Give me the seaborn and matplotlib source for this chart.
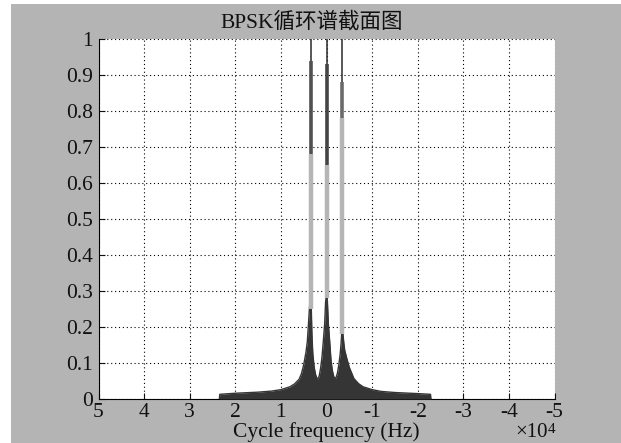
import matplotlib
matplotlib.use("Agg")
import matplotlib.pyplot as plt
import seaborn as sns
import numpy as np
import pandas as pd
from matplotlib.patches import Rectangle

# ---- data (cycle frequency in units of 1e4 Hz, normalized amplitude) ----
alpha_env = [2.35, 2.34, 2.0, 1.5, 1.2, 1.0, 0.8, 0.7, 0.6, 0.55, 0.5, 0.45, 0.42,
             0.40, 0.38, 0.365, 0.35, 0.335, 0.32, 0.30, 0.27, 0.24, 0.21, 0.19,
             0.16, 0.13, 0.10, 0.07, 0.04, 0.02, 0.0, -0.02, -0.04, -0.07, -0.10,
             -0.13, -0.16, -0.19, -0.21, -0.24, -0.27, -0.30, -0.32, -0.335, -0.35,
             -0.365, -0.38, -0.40, -0.44, -0.5, -0.6, -0.7, -0.8, -1.0, -1.2, -1.5,
             -2.0, -2.28, -2.29]
value_env = [0.0, 0.013, 0.016, 0.019, 0.022, 0.026, 0.034, 0.042, 0.055, 0.07, 0.095,
             0.13, 0.16, 0.2, 0.24, 0.27, 0.28, 0.26, 0.18, 0.125, 0.088, 0.068, 0.057,
             0.056, 0.064, 0.085, 0.115, 0.16, 0.21, 0.27, 0.29, 0.27, 0.21, 0.16, 0.105,
             0.078, 0.062, 0.057, 0.06, 0.072, 0.095, 0.125, 0.155, 0.185, 0.19, 0.175, 0.155,
             0.135, 0.115, 0.088, 0.057, 0.043, 0.034, 0.026, 0.021, 0.018, 0.015, 0.013, 0.0]

peak_pos = [0.35, 0.0, -0.35]
light_bottom = [0.25, 0.28, 0.18]
light_top = [0.68, 0.65, 0.78]
mid_top = [0.94, 0.93, 0.88]
peak_top = [1.0, 1.0, 1.0]
mid_colors = ["#505050", "#454545", "#6a6a6a"]

xticks = [5, 4, 3, 2, 1, 0, -1, -2, -3, -4, -5]
yticks = [0, 0.1, 0.2, 0.3, 0.4, 0.5, 0.6, 0.7, 0.8, 0.9, 1]
title = "BPSK循环谱截面图"
xlabel = "Cycle frequency (Hz)"
scale_base = "×10"
scale_exp = "4"

# ---- style ----
sns.set_theme(style="white")
plt.rcParams['font.family'] = ['Liberation Serif', 'Noto Sans CJK SC']

W, H = 621, 443
fig = plt.figure(figsize=(W / 100, H / 100), dpi=100, facecolor="#b4b4b4")
# thin white margins at left and top, as in the reference image
fig.patches.append(Rectangle((0, 0), 11 / W, 1, transform=fig.transFigure,
                             facecolor="white", edgecolor="none", zorder=-10))
fig.patches.append(Rectangle((0, 1 - 4 / H), 1, 4 / H, transform=fig.transFigure,
                             facecolor="white", edgecolor="none", zorder=-10))
ax = fig.add_axes([98.5 / W, (H - 399) / H, (554.5 - 98.5) / W, (399 - 39) / H])
ax.set_facecolor("white")

df = pd.DataFrame({"alpha": alpha_env, "value": value_env})
ax.fill_between(df["alpha"], 0, df["value"], color="#353535", linewidth=0, zorder=3)
sns.lineplot(data=df, x="alpha", y="value", ax=ax, color="#353535", linewidth=1.0,
             sort=False, estimator=None, zorder=3)

ax.vlines(peak_pos, light_bottom, light_top, colors="#b5b5b5", linewidth=3.2, zorder=4)
ax.vlines(peak_pos, light_top, mid_top, colors=mid_colors, linewidth=2.6, zorder=4)
ax.vlines(peak_pos, mid_top, peak_top, colors="#2a2a2a", linewidth=1.1, zorder=4)

ax.set_xlim(5, -5)
ax.set_ylim(0, 1)
ax.set_xticks(xticks)
ax.set_xticklabels([str(t) for t in xticks])
ax.set_yticks(yticks)
ax.set_yticklabels(["0" if t == 0 else ("1" if t == 1 else f"{t:g}") for t in yticks])
ax.grid(True, color="black", linestyle=(0, (1, 2.5)), linewidth=0.8)
for s in ["top", "right"]:
    ax.spines[s].set_visible(False)
for s in ["left", "bottom"]:
    ax.spines[s].set_color("black")
    ax.spines[s].set_linewidth(0.8)
ax.tick_params(direction="in", length=4, width=0.8, colors="#111111", labelsize=15.5,
               left=True, bottom=True)
ax.tick_params(axis="x", pad=3)
ax.tick_params(axis="y", pad=4)
ax.set_xlabel(xlabel, fontsize=15.5, labelpad=0, color="#111111")
ax.set_ylabel("")
ax.set_title(title, fontsize=15.5, pad=8, color="#111111", x=(312 - 98.5) / 456)

t = ax.text(0.915, -0.106, scale_base, transform=ax.transAxes, fontsize=15,
            ha="left", va="baseline", color="#111111")
ax.annotate(scale_exp, xy=(1.0, 0.33), xycoords=t, fontsize=11, ha="left",
            va="bottom", color="#111111")

fig.savefig("out.png", dpi=100, facecolor=fig.get_facecolor())
